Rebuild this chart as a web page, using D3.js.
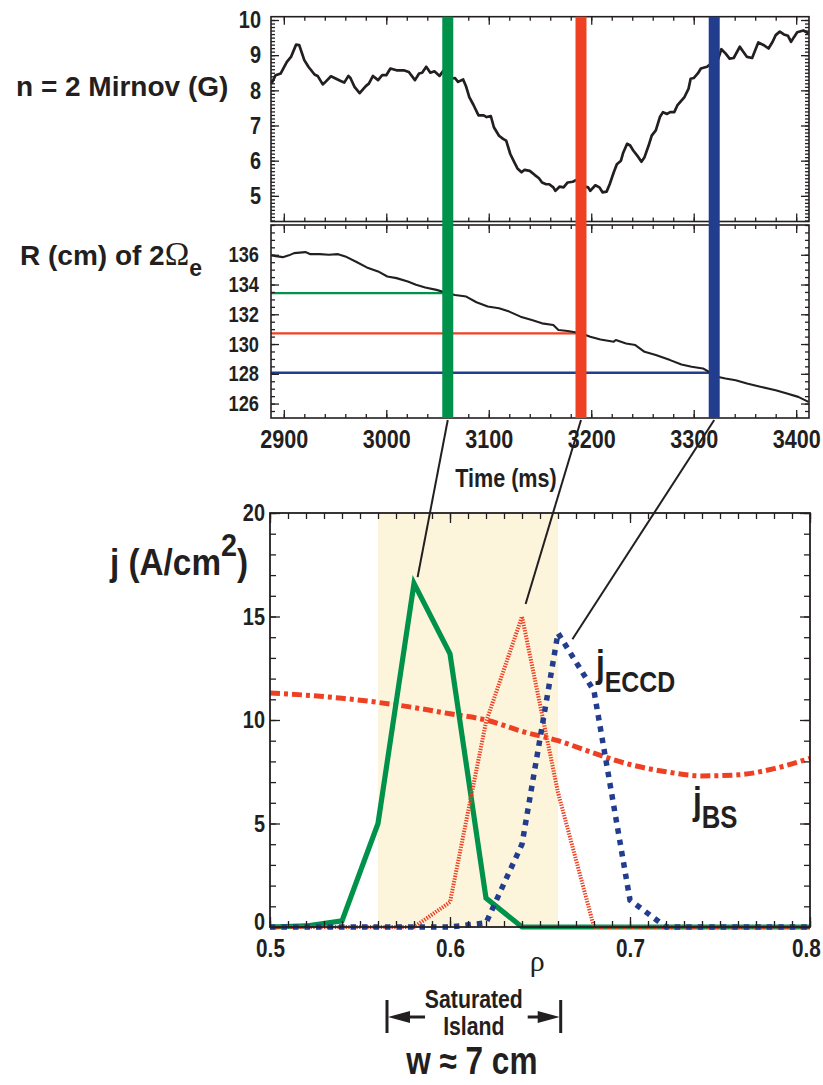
<!DOCTYPE html>
<html><head><meta charset="utf-8">
<script src="https://cdn.jsdelivr.net/npm/d3@7"></script>
<style>
body{margin:0;background:#fff;}
svg{display:block;}
text{font-family:"Liberation Sans Narrow","Arial Narrow","Liberation Sans",Arial,sans-serif;font-weight:bold;fill:#231f20;}
.wide{font-family:"Liberation Sans",Arial,sans-serif;}
.greek{font-family:"Liberation Serif","DejaVu Serif",serif;font-weight:normal;}
</style></head><body>
<svg id="c" width="823" height="1085"></svg>
<script>
// ---------- data ----------
const mirnovTime = [2888,2892,2897,2903,2907,2912,2915,2920,2924,2930,
  2933,2938,2940,2946,2951,2956,2959,2963,2965,2969,
  2974,2980,2983,2987,2992,2996,3000,3004,3010,3017,
  3022,3028,3032,3035,3039,3043,3047,3052,3056,3061,
  3063,3067,3070,3075,3078,3081,3085,3090,3095,3098,
  3102,3105,3110,3114,3117,3121,3125,3128,3132,3135,
  3140,3145,3149,3152,3156,3159,3163,3165,3169,3173,
  3177,3182,3186,3190,3193,3197,3199,3204,3208,3211,
  3215,3218,3222,3225,3229,3231,3235,3238,3241,3246,
  3249,3252,3256,3259,3263,3267,3270,3274,3277,3281,
  3284,3288,3291,3295,3297,3300,3304,3307,3313,3317,
  3322,3324,3327,3331,3335,3339,3345,3348,3352,3357,
  3363,3368,3373,3377,3380,3384,3388,3392,3395,3398,
  3401,3407,3412];
const mirnovG = [8.19,8.43,8.48,8.81,8.95,9.30,9.29,8.86,8.67,8.45,
  8.41,8.17,8.22,8.40,8.33,8.26,8.22,8.41,8.35,8.10,
  7.92,8.12,8.19,8.41,8.29,8.43,8.43,8.62,8.57,8.57,
  8.52,8.29,8.48,8.50,8.67,8.50,8.54,8.41,8.57,8.38,
  8.33,8.35,8.24,8.31,8.10,7.81,7.59,7.29,7.29,7.24,
  7.27,6.95,6.71,6.62,6.57,6.19,5.95,5.78,5.67,5.74,
  5.71,5.59,5.50,5.38,5.33,5.33,5.24,5.14,5.26,5.24,
  5.38,5.40,5.46,5.36,5.27,5.24,5.14,5.30,5.24,5.10,
  5.12,5.33,5.67,5.90,6.00,6.21,6.48,6.43,6.29,6.10,
  5.97,6.10,6.43,6.71,6.86,7.24,7.38,7.33,7.38,7.38,
  7.57,7.71,7.81,8.05,8.33,8.35,8.48,8.62,8.67,8.76,
  8.81,8.90,9.17,9.05,8.90,8.92,9.24,9.11,8.95,8.92,
  9.36,9.29,9.19,9.38,9.57,9.67,9.59,9.55,9.38,9.52,
  9.65,9.70,9.62];
const rTime = [2888,2894,2899,2905,2910,2921,2926,2935,2944,2953,
  2960,2971,2981,2992,3001,3010,3021,3029,3038,3049,
  3060,3067,3078,3088,3099,3110,3120,3131,3142,3152,
  3163,3168,3177,3190,3199,3209,3222,3224,3234,3243,
  3252,3263,3277,3288,3298,3309,3316,3323,3331,3341,
  3352,3366,3380,3391,3402,3412];
const rCm = [135.96,135.89,135.84,135.96,136.11,136.18,136.04,136.04,136.00,136.04,
  135.89,135.51,135.15,134.88,134.54,134.43,134.20,133.98,133.80,133.64,
  133.42,133.30,133.19,132.81,132.52,132.40,132.18,131.84,131.62,131.39,
  131.28,130.94,130.88,130.72,130.49,130.31,130.16,130.27,130.04,129.93,
  129.48,129.26,128.92,128.63,128.47,128.36,128.09,127.80,127.69,127.57,
  127.35,127.12,126.90,126.67,126.45,126.11];
const eventTime = [3060, 3190, 3320];
const eventR = [133.42, 130.72, 128.07];
const eventColor = ["#00924b", "#ee4023", "#233d8e"];

const rho = [0.50,0.52,0.54,0.56,0.58,0.60,0.62,0.64,0.66,0.68,0.70,0.72,0.74,0.76,0.78,0.80];
const jGreen = [0,0.05,0.3,5.0,16.6,13.2,1.4,0,0,0,0,0,0,0,0,0];
const jRed   = [0,0,0,0,0,1.2,9.9,15.0,6.5,0,0,0,0,0,0,0];
const jBlue  = [0,0,0,0,0,0,0.2,4.0,14.2,11.4,1.3,0,0,0,0,0];
const jBS    = [11.3,11.2,11.05,10.85,10.6,10.3,10.0,9.45,9.0,8.4,7.85,7.5,7.3,7.35,7.65,8.15];
const islandBand = [0.56, 0.66];
const islandMarks = [0.565, 0.6615];
const connRho = [0.582, 0.642, 0.668];
const connJ = [16.9, 15.6, 13.9];

const mirnovTicks = [5,6,7,8,9,10];
const rTicks = [126,128,130,132,134,136];
const timeTicks = [2900,3000,3100,3200,3300,3400];
const jTicks = [0,5,10,15,20];
const rhoTicks = [0.5,0.6,0.7,0.8];

// ---------- scales ----------
const ink = "#231f20";
const svg = d3.select("#c");
const xT = d3.scaleLinear().domain([2887.5, 3412.5]).range([271, 809]);
const yM = d3.scaleLinear().domain([4.27, 10.094]).range([221.5, 16.7]);
const yR = d3.scaleLinear().domain([125.03, 138.0]).range([418, 225]);
const xP = d3.scaleLinear().domain([0.5, 0.8]).range([270, 810]);
const yJ = d3.scaleLinear().domain([0, 20]).range([927, 513]);

function axis(g, orient, scale, pos, values, size, fmt, pad, fs) {
  const f = {left: d3.axisLeft, right: d3.axisRight, top: d3.axisTop, bottom: d3.axisBottom}[orient];
  const ax = f(scale).tickValues(values).tickSizeInner(-size).tickSizeOuter(0).tickPadding(pad || 0)
    .tickFormat(fmt || (() => ""));
  const vert = orient === "left" || orient === "right";
  const a = g.append("g").attr("transform", vert ? `translate(${pos},0)` : `translate(0,${pos})`).call(ax);
  a.select(".domain").remove();
  a.attr("font-family", null).attr("font-size", fs || 10);
  a.selectAll("line").attr("stroke", ink).attr("stroke-width", 1.3);
  if (!fmt) a.selectAll("text").remove();
  return a;
}
function frame(g, xs, ys, xMaj, xMin, yMaj, yMin, lMaj, lMin, opt) {
  const [x0, x1] = xs.range(), [y0, y1] = ys.range();
  const top = Math.min(y0, y1), bot = Math.max(y0, y1);
  axis(g, "bottom", xs, bot, xMin, lMin);
  axis(g, "top", xs, top, xMin, lMin);
  const xa = axis(g, "bottom", xs, bot, xMaj, lMaj, opt.xfmt, opt.xpad, opt.xfs);
  axis(g, "top", xs, top, xMaj, lMaj);
  axis(g, "left", ys, x0, yMin, lMin);
  axis(g, "right", ys, x1, yMin, lMin);
  const ya = axis(g, "left", ys, x0, yMaj, lMaj, opt.yfmt, opt.ypad, opt.yfs);
  axis(g, "right", ys, x1, yMaj, lMaj);
  g.append("rect").attr("x", x0).attr("y", top).attr("width", x1 - x0).attr("height", bot - top)
    .attr("fill", "none").attr("stroke", ink).attr("stroke-width", opt.sw || 1.6);
  return {xa, ya};
}
function minors(a, b, s) { const out = []; for (let v = a; v <= b + 1e-9; v += s) out.push(+v.toFixed(4)); return out; }

// ---------- top panel: Mirnov ----------
const gTop = svg.append("g");
gTop.append("path")
  .datum(mirnovTime.map((t, i) => [t, mirnovG[i]]))
  .attr("fill", "none").attr("stroke", ink).attr("stroke-width", 2.7).attr("stroke-linejoin", "round")
  .attr("d", d3.line().x(d => xT(d[0])).y(d => yM(d[1])));

// ---------- middle panel: R of 2 Omega_e ----------
const gMid = svg.append("g");
eventTime.forEach((t, i) => {
  gMid.append("line").attr("x1", xT.range()[0]).attr("x2", xT(t))
    .attr("y1", yR(eventR[i])).attr("y2", yR(eventR[i]))
    .attr("stroke", eventColor[i]).attr("stroke-width", 2.3);
});
gMid.append("path")
  .datum(rTime.map((t, i) => [t, rCm[i]]))
  .attr("fill", "none").attr("stroke", ink).attr("stroke-width", 2.1).attr("stroke-linejoin", "round")
  .attr("d", d3.line().x(d => xT(d[0])).y(d => yR(d[1])));

// bars through both panels
const barW = 11;
svg.append("g").selectAll("rect").data(eventTime).join("rect")
  .attr("x", d => xT(d) - barW / 2).attr("width", barW)
  .attr("y", yM.range()[1]).attr("height", yR.range()[0] - yM.range()[1])
  .attr("fill", (d, i) => eventColor[i]);

frame(gTop.append("g"), xT, yM, timeTicks, minors(2900, 3400, 20), mirnovTicks, minors(4.3, 10.0, 0.1), 8, 4,
  {yfmt: d3.format("d"), ypad: 10, yfs: 24});
frame(gMid.append("g"), xT, yR, timeTicks, minors(2900, 3400, 20), rTicks, minors(125.5, 138, 0.5), 8, 4,
  {xfmt: d3.format("d"), xpad: 12, xfs: 26, yfmt: d3.format("d"), ypad: 12, yfs: 22});

// ---------- bottom panel ----------
const gBot = svg.append("g");
gBot.append("rect").attr("x", xP(islandBand[0])).attr("width", xP(islandBand[1]) - xP(islandBand[0]))
  .attr("y", yJ(20)).attr("height", yJ(0) - yJ(20)).attr("fill", "#fcf5dc");
const lineJ = d3.line().x((d, i) => xP(rho[i])).y(d => yJ(d));
gBot.append("path").datum(jBS).attr("fill", "none").attr("stroke", "#ee4023").attr("stroke-width", 5)
  .attr("stroke-dasharray", "10,4,4,4")
  .attr("d", d3.line().x((d, i) => xP(rho[i])).y(d => yJ(d)).curve(d3.curveMonotoneX));
gBot.append("path").datum(jGreen).attr("fill", "none").attr("stroke", "#00924b").attr("stroke-width", 5.2)
  .attr("stroke-linejoin", "miter").attr("d", lineJ);
gBot.append("path").datum(jRed).attr("fill", "none").attr("stroke", "#ee4023").attr("stroke-width", 4)
  .attr("stroke-dasharray", "1.4,1.3").attr("d", lineJ);
gBot.append("path").datum(jBlue).attr("fill", "none").attr("stroke", "#233d8e").attr("stroke-width", 5.5)
  .attr("stroke-dasharray", "5.5,6").attr("d", lineJ);

const bAx = frame(gBot.append("g"), xP, yJ, rhoTicks, minors(0.5, 0.8, 0.01), jTicks, minors(0, 20, 1), 10, 6,
  {xfmt: d3.format(".1f"), xpad: 12, xfs: 25, yfmt: d3.format("d"), ypad: 5, yfs: 24, sw: 1.8});
// small nudges of the edge labels as in the original lettering
bAx.xa.selectAll("text").filter(d => d === 0.8).attr("dx", -5);
bAx.ya.selectAll("text").filter(d => d === 0).attr("dy", "0.1em");

// connectors (drawn last so they sit on top of the island band)
svg.append("g").selectAll("line").data(eventTime).join("line")
  .attr("x1", d => xT(d)).attr("y1", yR.range()[0] + 2)
  .attr("x2", (d, i) => xP(connRho[i])).attr("y2", (d, i) => yJ(connJ[i]))
  .attr("stroke", ink).attr("stroke-width", 2);

// ---------- labels ----------
svg.append("text").attr("class", "wide").attr("x", 16).attr("y", 96).attr("font-size", 28)
  .text("n = 2 Mirnov (G)");
const rl = svg.append("text").attr("class", "wide").attr("x", 20).attr("y", 265).attr("font-size", 28);
rl.append("tspan").text("R (cm) of 2");
rl.append("tspan").attr("class", "greek").attr("font-size", 33).text("Ω");
rl.append("tspan").attr("font-size", 23).attr("dy", 11).text("e");

svg.append("text").attr("x", (xT.range()[0] + xT.range()[1]) / 2 - 34).attr("y", 487).attr("text-anchor", "middle")
  .attr("font-size", 26).text("Time (ms)");

const jl = svg.append("text").attr("x", 110).attr("y", 575).attr("font-size", 37).attr("data-k", 0.9);
jl.append("tspan").text("j (A/cm");
jl.append("tspan").attr("font-size", 32).attr("dy", -19).text("2");
jl.append("tspan").attr("dy", 19).text(")");

const je = svg.append("text").attr("x", 596).attr("y", 677).attr("font-size", 38);
je.append("tspan").text("j");
je.append("tspan").attr("font-size", 30).attr("dy", 15).text("ECCD");
const jb = svg.append("text").attr("x", 693).attr("y", 814).attr("font-size", 38);
jb.append("tspan").text("j");
jb.append("tspan").attr("font-size", 31).attr("dy", 14).text("BS");

svg.append("text").attr("class", "greek").attr("x", xP(0.6485)).attr("y", 971).attr("text-anchor", "middle")
  .attr("font-size", 30).text("ρ");

// saturated island marker
const xa = xP(islandMarks[0]), xb = xP(islandMarks[1]), xm = (xa + xb) / 2;
const ya = yJ(0) + 90, yb = yJ(0) + 73, yc = yJ(0) + 106;
const gi = svg.append("g").attr("stroke", ink).attr("stroke-width", 3);
gi.append("line").attr("x1", xa).attr("x2", xa).attr("y1", yb).attr("y2", yc);
gi.append("line").attr("x1", xb).attr("x2", xb).attr("y1", yb).attr("y2", yc);
gi.append("line").attr("x1", xa + 8).attr("x2", xa + 38).attr("y1", ya).attr("y2", ya);
gi.append("line").attr("x1", xb - 33).attr("x2", xb - 8).attr("y1", ya).attr("y2", ya);
svg.append("path").attr("fill", ink)
  .attr("d", `M${xa + 1},${ya} L${xa + 23},${ya - 6} L${xa + 23},${ya + 6} Z M${xb - 1},${ya} L${xb - 23},${ya - 6} L${xb - 23},${ya + 6} Z`);
svg.append("text").attr("x", xm).attr("y", 1008).attr("text-anchor", "middle").attr("font-size", 25).attr("data-k", 0.85).text("Saturated");
svg.append("text").attr("x", xm).attr("y", 1035).attr("text-anchor", "middle").attr("font-size", 25).attr("data-k", 0.85).text("Island");
svg.append("text").attr("x", xm - 2).attr("y", 1074).attr("text-anchor", "middle").attr("font-size", 38).text("w ≈ 7 cm");

// condensed look (Helvetica-Narrow style) for the plot lettering
svg.selectAll("text").filter(function () { return !this.classList.contains("wide") && !this.classList.contains("greek"); })
  .each(function () {
    const x = +this.getAttribute("x") || 0;
    const k = +this.getAttribute("data-k") || 0.83;
    this.setAttribute("transform", `translate(${x},0) scale(${k},1) translate(${-x},0)`);
  });
</script>
</body></html>
